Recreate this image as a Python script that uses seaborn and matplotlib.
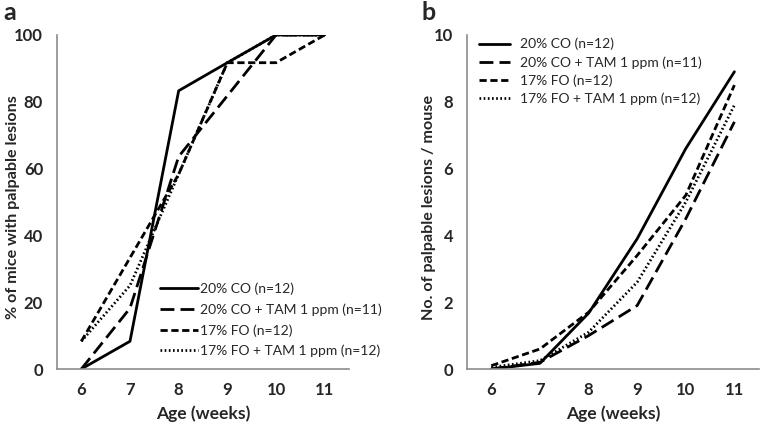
import matplotlib
matplotlib.use("Agg")
import matplotlib.pyplot as plt
import seaborn as sns
import pandas as pd

sns.set_theme(style="white")
plt.rcParams['font.family'] = ['Lato', 'DejaVu Sans']

weeks = [6, 7, 8, 9, 10, 11]
series = ["20% CO (n=12)", "20% CO + TAM 1 ppm (n=11)", "17% FO (n=12)", "17% FO + TAM 1 ppm (n=12)"]
pct_co = [0, 8.3, 83.3, 91.7, 100, 100]
pct_co_tam = [0, 18.2, 63.6, 81.8, 100, 100]
pct_fo = [8.3, 33.3, 58.3, 91.7, 91.7, 100]
pct_fo_tam = [8.3, 25.0, 58.3, 91.7, 100, 100]
num_co = [0.0, 0.17, 1.67, 3.9, 6.6, 8.9]
num_co_tam = [0.0, 0.2, 1.0, 1.9, 4.5, 7.4]
num_fo = [0.1, 0.6, 1.7, 3.4, 5.2, 8.5]
num_fo_tam = [0.05, 0.25, 1.1, 2.6, 5.0, 7.9]

def frame(vals):
    rows = []
    for s, v in zip(series, vals):
        for w, y in zip(weeks, v):
            rows.append({"week": w, "value": y, "group": s})
    return pd.DataFrame(rows)

df_a = frame([pct_co, pct_co_tam, pct_fo, pct_fo_tam])
df_b = frame([num_co, num_co_tam, num_fo, num_fo_tam])

dashes = {series[0]: "", series[1]: (5, 2.2), series[2]: (2.6, 1.3), series[3]: (0.6, 0.9)}
palette = {s: "black" for s in series}

fig = plt.figure(figsize=(7.61, 4.24), dpi=100)
ax_a = fig.add_axes([0.0749, 0.1297, 0.3837, 0.7878])
ax_b = fig.add_axes([0.6137, 0.1297, 0.3833, 0.7878])

grey = "#8c8c8c"
for ax, df, ylim, yt, ylab, labx in [
    (ax_a, df_a, (0, 100), [0, 20, 40, 60, 80, 100], "% of mice with palpable lesions", -0.128),
    (ax_b, df_b, (0, 10), [0, 2, 4, 6, 8, 10], "No. of palpable lesions / mouse", -0.105),
]:
    sns.lineplot(data=df, x="week", y="value", hue="group", style="group",
                 palette=palette, dashes=dashes, linewidth=2.0, ax=ax, legend=True)
    ax.set_xlim(5.5, 11.5)
    ax.set_ylim(*ylim)
    ax.set_yticks(yt)
    ax.set_xticks(weeks)
    ax.set_xticks([5.5 + i for i in range(7)], minor=True)
    ax.tick_params(axis="x", which="major", length=0, labelsize=12, pad=9)
    ax.tick_params(axis="x", which="minor", length=5, color=grey, direction="out", width=1)
    ax.tick_params(axis="y", length=5, color=grey, direction="out", width=1, labelsize=12, pad=5)
    for lbl in ax.get_xticklabels() + ax.get_yticklabels():
        lbl.set_fontweight("bold")
    for side in ["top", "right"]:
        ax.spines[side].set_visible(False)
    for side in ["left", "bottom"]:
        ax.spines[side].set_color(grey)
        ax.spines[side].set_linewidth(1.2)
    ax.set_xlabel("Age (weeks)", fontsize=12.6, fontweight="bold", labelpad=6)
    ax.set_ylabel(ylab, fontsize=11.6, fontweight="bold")
    ax.yaxis.set_label_coords(labx, 0.485)

leg_a = ax_a.legend(loc="lower left", bbox_to_anchor=(0.334, 0.019), frameon=False,
                    fontsize=10, handlelength=2.75, handletextpad=0.15, labelspacing=0.58,
                    borderaxespad=0)
leg_b = ax_b.legend(loc="upper left", bbox_to_anchor=(0.022, 1.008), frameon=False,
                    fontsize=10, handlelength=2.25, handletextpad=0.7, labelspacing=0.4,
                    borderaxespad=0)
for leg in (leg_a, leg_b):
    for h in leg.get_lines():
        h.set_linewidth(2.0)

fig.text(0.004, 1 - 20 / 424, "a", fontsize=18, fontweight="bold", va="baseline", ha="left")
fig.text(0.5545, 1 - 20 / 424, "b", fontsize=18, fontweight="bold", va="baseline", ha="left")

fig.savefig("out.png", dpi=100)
